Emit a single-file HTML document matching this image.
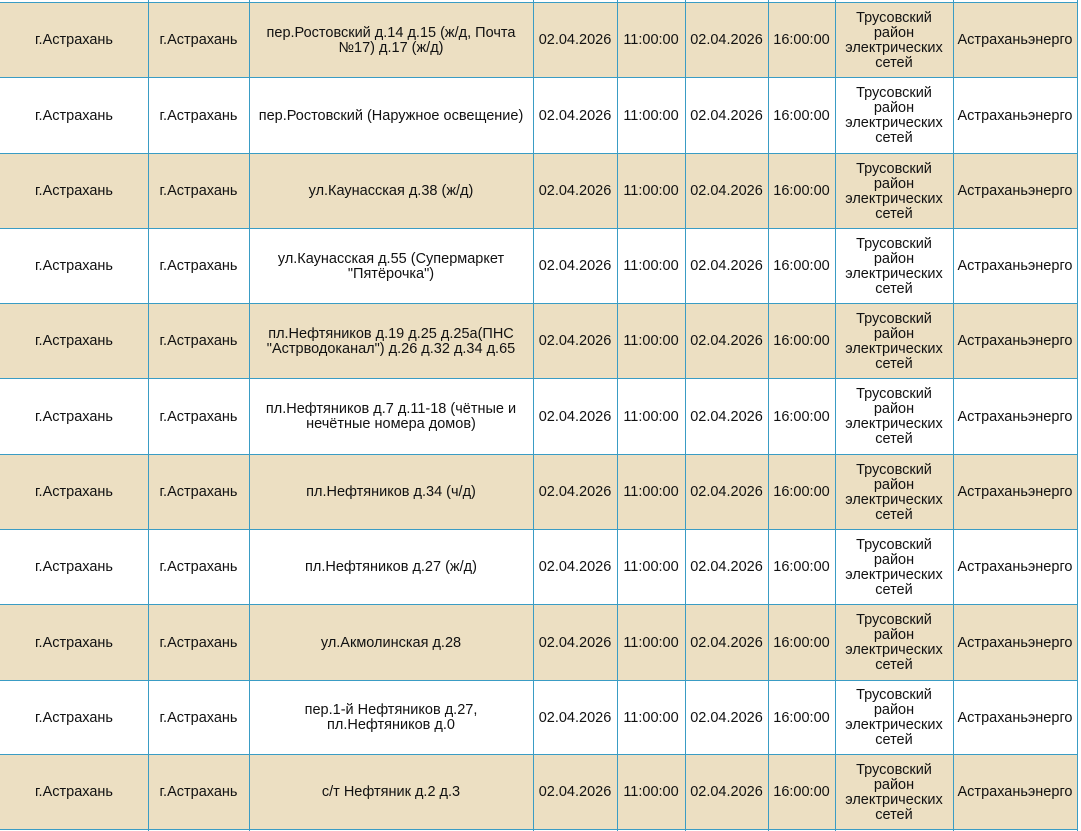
<!DOCTYPE html><html><head><meta charset="utf-8"><style>
body{margin:0;width:1081px;height:831px;overflow:hidden;background:#fff;font-family:"Liberation Sans","DejaVu Sans",sans-serif;font-size:14.5px;color:#111}
.c{position:absolute;box-sizing:border-box;display:flex;align-items:center;justify-content:center;text-align:center;line-height:15px;padding:2px 3px 0;white-space:nowrap}
.h{position:absolute;left:0;width:1078px;height:1px;background:#3a9cc4}
.v{position:absolute;top:0;height:831px;width:1px;background:#3a9cc4}
.b{position:absolute;left:0;width:1078px;background:#ecdfc2}
</style></head><body><div id="t"></div>
<script>
var xs=[0,148,249,533,617,685,768,835,953,1077];
var ys=[2,77,153,228,303,378,454,529,604,680,754,829];
var a=["пер.Ростовский д.14 д.15 (ж/д, Почта<br>№17) д.17 (ж/д)","пер.Ростовский (Наружное освещение)","ул.Каунасская д.38 (ж/д)","ул.Каунасская д.55 (Супермаркет<br>\"Пятёрочка\")","пл.Нефтяников д.19 д.25 д.25а(ПНС<br>\"Астрводоканал\") д.26 д.32 д.34 д.65","пл.Нефтяников д.7 д.11-18 (чётные и<br>нечётные номера домов)","пл.Нефтяников д.34 (ч/д)","пл.Нефтяников д.27 (ж/д)","ул.Акмолинская д.28","пер.1-й Нефтяников д.27,<br>пл.Нефтяников д.0","с/т Нефтяник д.2 д.3"];
var h="";
for(var r=0;r<11;r++){
 if(r%2==0)h+='<div class="b" style="top:'+ys[r]+'px;height:'+(ys[r+1]-ys[r])+'px"></div>';
 var v=["г.Астрахань","г.Астрахань",a[r],"02.04.2026","11:00:00","02.04.2026","16:00:00","Трусовский<br>район<br>электрических<br>сетей","Астраханьэнерго"];
 for(var c=0;c<9;c++){h+='<div class="c" style="left:'+xs[c]+'px;width:'+(xs[c+1]-xs[c])+'px;top:'+ys[r]+'px;height:'+(ys[r+1]-ys[r])+'px;'+(c==7||c==8?'padding-left:0;padding-right:0':'')+'">'+v[c]+'</div>';}
}
for(var i=0;i<ys.length;i++)h+='<div class="h" style="top:'+ys[i]+'px"></div>';
for(var i=1;i<xs.length;i++)h+='<div class="v" style="left:'+xs[i]+'px"></div>';
document.getElementById("t").innerHTML=h;
</script></body></html>
